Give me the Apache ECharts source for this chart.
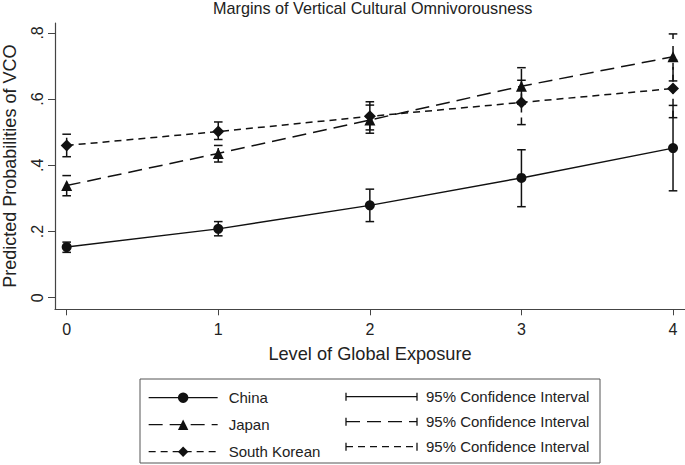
<!DOCTYPE html>
<html>
<head>
<meta charset="utf-8">
<title>Margins of Vertical Cultural Omnivorousness</title>
<script src="https://cdn.jsdelivr.net/npm/echarts@6/dist/echarts.min.js"></script>
<style>
  html, body { margin: 0; padding: 0; background: #fff; }
  #chart { width: 685px; height: 465px; }
</style>
</head>
<body>
<div id="chart"></div>
<script>
// Level of global exposure (x) and tick labels
var exposure = [0, 1, 2, 3, 4];
var xTickLabels = ["0", "1", "2", "3", "4"];
var yTicks = [0, 0.2, 0.4, 0.6, 0.8];
var yTickLabels = ["0", ".2", ".4", ".6", ".8"];

// predicted probabilities of VCO + 95% CI bounds
var china = [0.153, 0.208, 0.279, 0.362, 0.452];
var chinaLow = [0.137, 0.187, 0.230, 0.275, 0.323];
var chinaHigh = [0.168, 0.230, 0.328, 0.447, 0.581];

var japan = [0.339, 0.436, 0.537, 0.639, 0.728];
var japanLow = [0.308, 0.410, 0.497, 0.585, 0.655];
var japanHigh = [0.369, 0.460, 0.582, 0.695, 0.797];

var korea = [0.460, 0.502, 0.548, 0.590, 0.632];
var koreaLow = [0.426, 0.478, 0.507, 0.523, 0.544];
var koreaHigh = [0.494, 0.531, 0.592, 0.657, 0.718];

var countryNames = ["China", "Japan", "South Korean"];
var ciLabel = "95% Confidence Interval";

var FONT = "Liberation Sans, Arial, sans-serif";
var INK = "#111";
var dashJapan = [14, 7];
var dashKorea = [7, 5];

function toPoints(vals) {
  return exposure.map(function (x, i) { return [x, vals[i]]; });
}
function toBars(lo, hi) {
  return exposure.map(function (x, i) { return [x, lo[i], hi[i]]; });
}
function pickLabel(ticks, labels, v) {
  for (var i = 0; i < ticks.length; i++) {
    if (Math.abs(ticks[i] - v) < 1e-6) return labels[i];
  }
  return "";
}

// error bar with caps, drawn through the axis scales
function errorBar(dash) {
  return function (params, api) {
    var x = api.value(0);
    var lo = api.coord([x, api.value(1)]);
    var hi = api.coord([x, api.value(2)]);
    var cap = 4.3;
    var st = { stroke: INK, lineWidth: 1.5, lineDash: dash || null };
    var capSt = { stroke: INK, lineWidth: 1.5 };
    return {
      type: "group",
      children: [
        { type: "line", shape: { x1: lo[0], y1: lo[1], x2: hi[0], y2: hi[1] }, style: st },
        { type: "line", shape: { x1: lo[0] - cap, y1: lo[1], x2: lo[0] + cap, y2: lo[1] }, style: capSt },
        { type: "line", shape: { x1: hi[0] - cap, y1: hi[1], x2: hi[0] + cap, y2: hi[1] }, style: capSt },
      ],
    };
  };
}

function ciSeries(lo, hi, dash) {
  return {
    type: "custom",
    renderItem: errorBar(dash),
    encode: { x: 0, y: [1, 2] },
    data: toBars(lo, hi),
    z: 1,
    silent: true,
  };
}

function lineSeries(name, vals, symbol, size, dash) {
  return {
    name: name,
    type: "line",
    data: toPoints(vals),
    symbol: symbol,
    symbolSize: size,
    showSymbol: true,
    color: INK,
    itemStyle: { color: INK },
    lineStyle: { color: INK, width: 1.5, type: dash || "solid" },
    z: 3,
  };
}

// legend column for the CI entries (box + icons), not data
function ciLegendRow(y, dash) {
  var x1 = 346, x2 = 417;
  return [
    { type: "line", shape: { x1: x1, y1: y - 4, x2: x1, y2: y + 4 }, style: { stroke: INK, lineWidth: 1.3 } },
    { type: "line", shape: { x1: x1, y1: y, x2: x2, y2: y }, style: { stroke: INK, lineWidth: 1.3, lineDash: dash } },
    { type: "line", shape: { x1: x2, y1: y - 4, x2: x2, y2: y + 4 }, style: { stroke: INK, lineWidth: 1.3 } },
    { type: "text", x: 426, y: y, style: { text: ciLabel, font: "15px " + FONT, fill: "#222", textVerticalAlign: "middle" } },
  ];
}

var myChart = echarts.init(document.getElementById("chart"), null, { renderer: "svg" });

var option = {
  animation: false,
  backgroundColor: "#fff",
  textStyle: { fontFamily: FONT },
  title: {
    text: "Margins of Vertical Cultural Omnivorousness",
    left: 213,
    top: 0,
    padding: 0,
    textStyle: { fontFamily: FONT, fontSize: 16.2, fontWeight: "normal", color: "#222" },
  },
  grid: { left: 55, right: 0, top: 23, bottom: 155.7, containLabel: false, outerBoundsMode: "none" },
  xAxis: {
    type: "value",
    min: -0.077,
    max: 4.079,
    name: "Level of Global Exposure",
    nameLocation: "middle",
    nameGap: 36,
    nameTextStyle: { fontFamily: FONT, fontSize: 18.2, color: "#222" },
    splitLine: { show: false },
    axisLine: { onZero: false, lineStyle: { color: "#444", width: 1.2 } },
    axisTick: { customValues: exposure, length: 6, lineStyle: { color: "#444" } },
    axisLabel: {
      customValues: exposure,
      margin: 12,
      fontSize: 16,
      color: "#222",
      formatter: function (v) { return pickLabel(exposure, xTickLabels, v); },
    },
  },
  yAxis: {
    type: "value",
    min: -0.035,
    max: 0.83,
    name: "Predicted Probabilities of VCO",
    nameLocation: "middle",
    nameGap: 36,
    nameTextStyle: { fontFamily: FONT, fontSize: 18, color: "#222" },
    splitLine: { show: false },
    axisLine: { show: true, onZero: false, lineStyle: { color: "#444", width: 1.2 } },
    axisTick: { show: true, customValues: yTicks, length: 7, lineStyle: { color: "#444" } },
    axisLabel: {
      customValues: yTicks,
      rotate: 90,
      margin: 10,
      fontSize: 16,
      color: "#222",
      formatter: function (v) { return pickLabel(yTicks, yTickLabels, v); },
    },
  },
  legend: {
    orient: "vertical",
    left: 148,
    top: 390.2,
    padding: 0,
    itemWidth: 69,
    itemHeight: 13,
    itemGap: 12,
    selectedMode: false,
    data: countryNames,
    lineStyle: { width: 1.3 },
    textStyle: { fontFamily: FONT, fontSize: 15, color: "#222", lineHeight: 13, padding: [0, 0, 0, 6] },
  },
  graphic: [
    { type: "rect", shape: { x: 140, y: 379, width: 460, height: 84 }, style: { fill: "none", stroke: "#555", lineWidth: 1 } },
  ]
    .concat(ciLegendRow(396.7, null))
    .concat(ciLegendRow(421.7, dashJapan))
    .concat(ciLegendRow(446.7, dashKorea)),
  series: [
    ciSeries(chinaLow, chinaHigh, null),
    ciSeries(japanLow, japanHigh, dashJapan),
    ciSeries(koreaLow, koreaHigh, dashKorea),
    lineSeries(countryNames[0], china, "circle", 10, null),
    lineSeries(countryNames[1], japan, "triangle", 11, dashJapan),
    lineSeries(countryNames[2], korea, "diamond", 12, dashKorea),
  ],
};

myChart.setOption(option);
window.onresize = function () {
  myChart.resize();
};
</script>
</body>
</html>
